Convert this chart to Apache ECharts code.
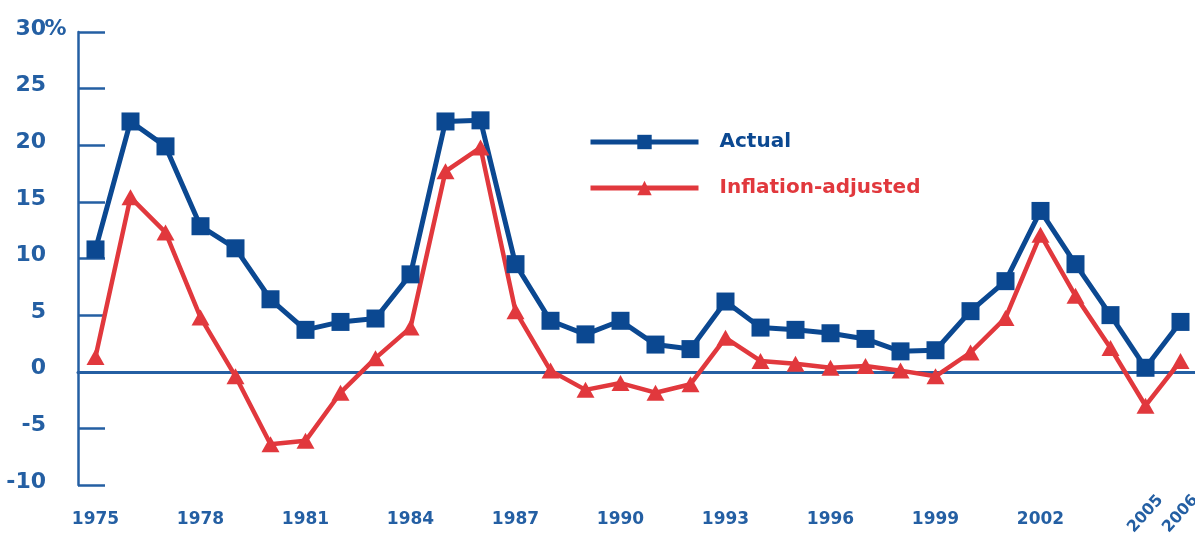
<!DOCTYPE html>
<html><head><meta charset="utf-8">
<script src="https://cdn.jsdelivr.net/npm/echarts@6/dist/echarts.min.js"></script>
<style>html,body{margin:0;padding:0;background:#fff}#c{width:1195px;height:534px}</style>
</head><body><div id="c"></div>
<script>
const years = ['1975','1976','1977','1978','1979','1980','1981','1982','1983','1984',
  '1985','1986','1987','1988','1989','1990','1991','1992','1993','1994',
  '1995','1996','1997','1998','1999','2000','2001','2002','2003','2004','2005','2006'];
const actual = [10.8, 22.1, 19.9, 12.85, 10.9, 6.4, 3.7, 4.4, 4.7, 8.6,
  22.1, 22.2, 9.5, 4.5, 3.3, 4.5, 2.4, 2.0, 6.2, 3.9,
  3.7, 3.4, 2.9, 1.8, 1.9, 5.35, 8.0, 14.2, 9.5, 5.0, 0.35, 4.4];
const inflationAdjusted = [1.3, 15.4, 12.3, 4.8, -0.4, -6.4, -6.1, -1.85, 1.2, 3.9,
  17.7, 19.8, 5.35, 0.1, -1.6, -1.0, -1.85, -1.1, 3.0, 0.95,
  0.7, 0.35, 0.5, 0.1, -0.4, 1.7, 4.75, 12.1, 6.7, 2.1, -3.0, 0.95];
const horizontalYearLabels = ['1975','1978','1981','1984','1987','1990','1993','1996','1999','2002'];
const slantedYearLabels = ['2005','2006'];
const yMin = -10, yMax = 30, yStep = 5;
const seriesNames = ['Actual', 'Inflation-adjusted'];

const NAVY = '#0b4891';
const AXIS = '#245fa3';
const RED = '#e1383d';
const FONT = 'DejaVu Sans';

const chart = echarts.init(document.getElementById('c'), null, {renderer: 'canvas'});
const baseX = {
  type: 'category', data: years, boundaryGap: true, position: 'bottom',
  axisTick: {show: false}, splitLine: {show: false}
};
chart.setOption({
  animation: false,
  backgroundColor: '#ffffff',
  grid: {left: 78, right: -3, top: 32, bottom: 49, containLabel: false, outerBoundsMode: 'none'},
  legend: {
    orient: 'vertical', left: 588, top: 132, padding: 0,
    itemWidth: 108, itemHeight: 18, itemGap: 26,
    lineStyle: {width: 5},
    textStyle: {fontSize: 20, fontWeight: 'bold', fontFamily: FONT, padding: [0, 0, 0, 16]},
    data: [
      {name: seriesNames[0], textStyle: {color: NAVY}},
      {name: seriesNames[1], textStyle: {color: RED}}
    ]
  },
  xAxis: [
    Object.assign({}, baseX, {
      axisLine: {show: true, onZero: true, lineStyle: {color: AXIS, width: 3}},
      axisLabel: {show: false}
    }),
    Object.assign({}, baseX, {
      axisLine: {show: false, onZero: false},
      axisLabel: {
        show: true, margin: 26, color: AXIS, fontSize: 17, fontWeight: 'bold', fontFamily: FONT,
        interval: (i, v) => horizontalYearLabels.indexOf(v) >= 0
      }
    }),
    Object.assign({}, baseX, {
      axisLine: {show: false, onZero: false},
      axisLabel: {
        show: true, margin: 29, rotate: 48, align: 'center', verticalAlign: 'middle',
        color: AXIS, fontSize: 16, fontWeight: 'bold', fontFamily: FONT,
        interval: (i, v) => slantedYearLabels.indexOf(v) >= 0
      }
    })
  ],
  yAxis: {
    type: 'value', min: yMin, max: yMax, interval: yStep,
    axisLine: {show: true, lineStyle: {color: AXIS, width: 2.5}},
    axisTick: {show: true, inside: true, length: 27, lineStyle: {color: AXIS, width: 2.5}},
    splitLine: {show: false},
    axisLabel: {
      margin: 13, color: AXIS, padding: [0, 0, 6, 0],
      formatter: v => v === yMax ? '{n|' + v + '}{p|%}' : '{n|' + v + '}{p| }',
      rich: {
        n: {fontSize: 22, fontWeight: 'bold', fontFamily: FONT, color: AXIS},
        p: {fontSize: 22, fontWeight: 'bold', fontFamily: FONT, color: AXIS, width: 19, align: 'left'}
      }
    }
  },
  series: [
    {
      name: seriesNames[0], type: 'line', xAxisIndex: 0, data: actual,
      symbol: 'rect', symbolSize: 18, showAllSymbol: true,
      lineStyle: {width: 5, color: NAVY}, itemStyle: {color: NAVY}
    },
    {
      name: seriesNames[1], type: 'line', xAxisIndex: 0, data: inflationAdjusted,
      symbol: 'triangle', symbolSize: [18, 16], showAllSymbol: true,
      lineStyle: {width: 4.5, color: RED}, itemStyle: {color: RED}
    }
  ]
});
</script>
</body></html>
